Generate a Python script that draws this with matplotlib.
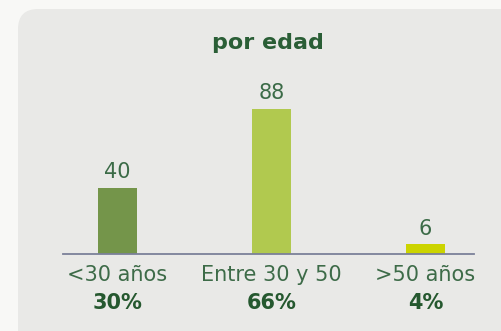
import matplotlib.pyplot as plt
from matplotlib.patches import FancyBboxPatch

# age breakdown
categories = ['<30 años', 'Entre 30 y 50', '>50 años']
counts = [40, 88, 6]
shares = ['30%', '66%', '4%']
bar_colors = ['#74954a', '#b1c94f', '#ccd400']

plt.rcParams['font.family'] = ['DejaVu Sans']

W, H = 502, 331
fig = plt.figure(figsize=(W / 100, H / 100), dpi=100)
fig.patch.set_facecolor('#f8f8f6')

# rounded grey panel behind the chart
panel = FancyBboxPatch((18 / W, -0.2), 1.2, (H - 9) / H + 0.2,
                       boxstyle='round,pad=0,rounding_size=0.04',
                       transform=fig.transFigure, facecolor='#e9e9e7',
                       edgecolor='none', mutation_aspect=W / H, zorder=-5)
fig.patches.append(panel)

fig.text(268 / W, 1 - 43 / H, 'por edad', ha='center', va='center',
         fontsize=16, fontweight='bold', color='#2a5e36')

# axes: baseline at y=254 px, 1.65 px per unit; bars 154 px apart
ax = fig.add_axes([63 / W, (H - 254) / H, (474 - 63) / W, 165 / H])
ax.set_facecolor('none')
x = list(range(len(categories)))
ax.bar(x, counts, width=0.253, color=bar_colors, zorder=2)
ax.set_xlim(-0.354, 2.315)
ax.set_ylim(0, 100)

for s in ['top', 'right', 'left']:
    ax.spines[s].set_visible(False)
ax.spines['bottom'].set_color('#7b8099')
ax.spines['bottom'].set_linewidth(1.3)
ax.set_yticks([])
ax.set_xticks(x)
ax.set_xticklabels([])
ax.tick_params(axis='x', length=0)

for xi, v in zip(x, counts):
    ax.annotate(str(v), (xi, v), xytext=(0, 4), textcoords='offset points',
                ha='center', va='bottom', fontsize=15, color='#3b6b47')

for xi, cat, sh in zip(x, categories, shares):
    ax.annotate(cat, (xi, 0), xytext=(0, -15.3), textcoords='offset points',
                ha='center', va='center', fontsize=15, color='#3d6b48',
                annotation_clip=False)
    ax.annotate(sh, (xi, 0), xytext=(0, -35.5), textcoords='offset points',
                ha='center', va='center', fontsize=15, fontweight='bold',
                color='#25582f', annotation_clip=False)

fig.savefig('out.png', dpi=100, facecolor=fig.get_facecolor())
